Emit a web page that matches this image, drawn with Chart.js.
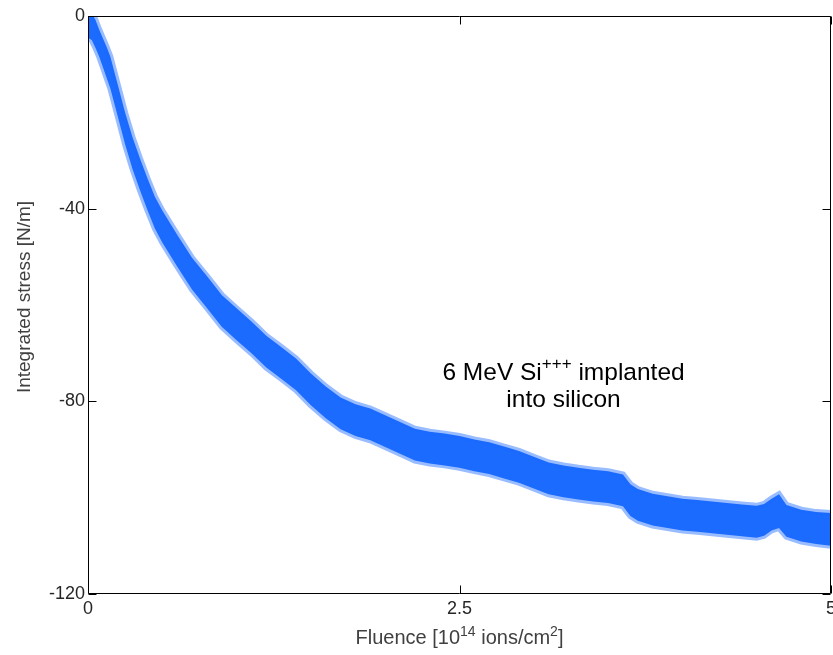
<!DOCTYPE html>
<html>
<head>
<meta charset="utf-8">
<script src="https://cdn.jsdelivr.net/npm/chart.js@4.4.0/dist/chart.umd.min.js"></script>
<style>
  html, body { margin: 0; padding: 0; background: #fff; }
</style>
</head>
<body>
<canvas id="stressChart" width="833" height="655"></canvas>
<script>
// Fluence in 1e14 ions/cm^2
const fluence = [
  0, 0.025, 0.05, 0.075, 0.1, 0.125, 0.15, 0.2, 0.25, 0.3, 0.35, 0.4, 0.45, 0.5,
  0.6, 0.7, 0.8, 0.9, 1.0, 1.1, 1.2, 1.3, 1.4, 1.5, 1.6, 1.7, 1.8, 1.9, 2.0,
  2.1, 2.2, 2.3, 2.4, 2.5, 2.6, 2.7, 2.8, 2.9, 3.0, 3.1, 3.2, 3.3, 3.4, 3.5,
  3.6, 3.65, 3.7, 3.8, 3.9, 4.0, 4.1, 4.2, 4.3, 4.4, 4.5, 4.55, 4.6, 4.65,
  4.7, 4.8, 4.9, 5.0
];

// Upper and lower edge of the noisy stress trace [N/m]
const stressHigh = [
  0, 0.5, -0.8, -2.8, -4.6, -6.4, -8.4, -14.2, -20.1, -25.2, -29.6, -33.7, -37.5, -40.4,
  -45.4, -50.2, -54.0, -57.9, -60.7, -63.4, -66.4, -68.7, -71.1, -74.2, -76.9, -79.2, -80.6, -81.5, -82.9,
  -84.3, -85.7, -86.3, -86.7, -87.2, -87.9, -88.5, -89.4, -90.3, -91.5, -92.7, -93.3, -93.8, -94.2, -94.5,
  -95.2, -97.2, -98.2, -99.2, -99.7, -100.2, -100.5, -100.8, -101.1, -101.4, -101.7, -101.3, -100.2, -99.3,
  -101.5, -102.5, -103.0, -103.2
];
const stressLow = [
  -4.5, -5.0, -6.6, -8.4, -10.6, -12.8, -15.0, -20.8, -26.7, -31.8, -36.2, -40.3, -44.1, -47.0,
  -52.0, -56.8, -60.6, -64.5, -67.3, -70.0, -73.0, -75.3, -77.7, -80.8, -83.5, -85.8, -87.2, -88.1, -89.5,
  -90.9, -92.3, -92.9, -93.3, -93.8, -94.5, -95.1, -96.0, -96.9, -98.1, -99.3, -99.9, -100.4, -100.8, -101.1,
  -101.8, -103.8, -104.8, -105.8, -106.3, -106.8, -107.1, -107.4, -107.7, -108.0, -108.3, -107.9, -106.8, -106.3,
  -108.1, -109.1, -109.6, -110.0
];

const xTicks = [0, 2.5, 5];
const yTicks = [0, -40, -80, -120];

const TRACE = "#1b6bff";
const FRINGE = "rgba(27, 107, 255, 0.45)";
const FONT = "'Liberation Sans', Arial, Helvetica, sans-serif";

function points(values) {
  return fluence.map((f, i) => ({ x: f, y: values[i] }));
}

// draws a line of text pieces, some of them raised as superscripts
function drawRich(ctx, parts, x, y, size, align) {
  const widths = parts.map((p) => {
    ctx.font = (p.sup ? Math.round(size * 0.68) : size) + "px " + FONT;
    return ctx.measureText(p.t).width;
  });
  const total = widths.reduce((a, b) => a + b, 0);
  let cx = align === "center" ? x - total / 2 : x;
  ctx.textAlign = "left";
  ctx.textBaseline = "alphabetic";
  parts.forEach((p, i) => {
    ctx.font = (p.sup ? Math.round(size * 0.68) : size) + "px " + FONT;
    ctx.fillText(p.t, cx, p.sup ? y - size * 0.42 : y);
    cx += widths[i];
  });
}

const frame = {
  id: "frame",
  afterDatasetsDraw(chart) {
    const { ctx, chartArea: a, scales } = chart;
    const L = Math.round(a.left) + 0.5, R = Math.round(a.right) - 0.5;
    const T = Math.round(a.top) + 0.5, B = Math.round(a.bottom) - 0.5;
    ctx.save();
    ctx.strokeStyle = "#000";
    ctx.lineWidth = 1;
    ctx.beginPath();
    ctx.rect(L, T, R - L, B - T);
    yTicks.forEach((v) => {
      const py = Math.round(scales.y.getPixelForValue(v)) + 0.5;
      ctx.moveTo(L, py); ctx.lineTo(L + 8, py);
      ctx.moveTo(R, py); ctx.lineTo(R - 8, py);
    });
    xTicks.forEach((v) => {
      const px = Math.round(scales.x.getPixelForValue(v)) + 0.5;
      ctx.moveTo(px, B); ctx.lineTo(px, B - 8);
      ctx.moveTo(px, T); ctx.lineTo(px, T + 8);
    });
    ctx.stroke();

    // annotation inside the plot
    ctx.fillStyle = "#000";
    const ax = scales.x.getPixelForValue(3.2);
    drawRich(ctx, [{ t: "6 MeV Si" }, { t: "+++", sup: true }, { t: " implanted" }],
      ax, scales.y.getPixelForValue(-75.5), 24.5, "center");
    drawRich(ctx, [{ t: "into silicon" }], ax, scales.y.getPixelForValue(-81.1), 24.5, "center");

    // axis titles
    ctx.fillStyle = "#404040";
    drawRich(ctx, [{ t: "Fluence [10" }, { t: "14", sup: true }, { t: " ions/cm" }, { t: "2", sup: true }, { t: "]" }],
      (a.left + a.right) / 2, 644, 20, "center");
    ctx.translate(30, (a.top + a.bottom) / 2 - 8);
    ctx.rotate(-Math.PI / 2);
    drawRich(ctx, [{ t: "Integrated stress [N/m]" }], 0, 0, 19, "center");
    ctx.restore();
  }
};

new Chart(document.getElementById("stressChart"), {
  type: "line",
  data: {
    datasets: [
      {
        data: points(stressHigh),
        borderColor: FRINGE,
        backgroundColor: TRACE,
        borderWidth: 6,
        pointRadius: 0,
        fill: "+1"
      },
      {
        data: points(stressLow),
        borderColor: FRINGE,
        borderWidth: 6,
        pointRadius: 0,
        fill: false
      }
    ]
  },
  options: {
    responsive: false,
    animation: false,
    events: [],
    layout: { padding: { top: 16, right: 2, left: 0, bottom: 0 } },
    plugins: { legend: { display: false }, tooltip: { enabled: false } },
    scales: {
      x: {
        type: "linear",
        min: 0,
        max: 5,
        afterBuildTicks: (s) => { s.ticks = xTicks.map((v) => ({ value: v })); },
        ticks: { padding: 4, color: "#262626", maxRotation: 0, font: { family: FONT, size: 18 } },
        grid: { display: false, drawTicks: false },
        border: { display: false },
        afterFit(s) { s.height = 61; s.paddingLeft = 0; s.paddingRight = 0; }
      },
      y: {
        min: -120,
        max: 0,
        afterBuildTicks: (s) => { s.ticks = yTicks.map((v) => ({ value: v })); },
        ticks: { padding: 3, color: "#262626", font: { family: FONT, size: 18 } },
        grid: { display: false, drawTicks: false },
        border: { display: false },
        afterFit(s) { s.width = 88; s.paddingTop = 0; s.paddingBottom = 0; }
      }
    }
  },
  plugins: [frame]
});
</script>
</body>
</html>
